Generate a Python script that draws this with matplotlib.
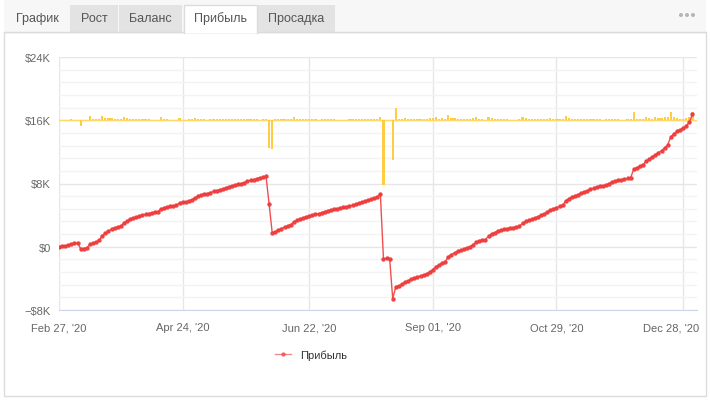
import numpy as np
import matplotlib.pyplot as plt
from matplotlib.patches import Rectangle, Circle
from matplotlib.transforms import ScaledTranslation

plt.rcParams['font.family'] = ['Liberation Sans', 'DejaVu Sans']

# накопленная прибыль по сделкам ($)
profit = [
    0, 80, 120, 160, 380, 420, 500, -250, -230, -180,
    300, 450, 600, 800, 1400, 1700, 1950, 2250, 2400, 2500,
    2600, 3000, 3250, 3450, 3650, 3750, 3850, 4000, 4100, 4200,
    4280, 4350, 4420, 4800, 4900, 5050, 5100, 5180, 5250, 5550,
    5600, 5650, 5800, 5950, 6200, 6400, 6550, 6650, 6720, 6850,
    7000, 7100, 7200, 7300, 7450, 7600, 7700, 7800, 7900, 8000,
    8100, 8300, 8400, 8500, 8620, 8700, 8800, 8900, 5400, 1770,
    1900, 2100, 2300, 2500, 2650, 2800, 3150, 3350, 3500, 3650,
    3800, 3900, 4000, 4100, 4180, 4300, 4450, 4550, 4650, 4750,
    4820, 4900, 4980, 5050, 5150, 5250, 5350, 5500, 5650, 5750,
    5850, 6000, 6150, 6300, 6700, -1500, -1480, -1500, -6570, -5050,
    -4950, -4750, -4500, -4300, -4100, -3950, -3800, -3700, -3550, -3400,
    -3150, -2900, -2500, -2300, -2050, -1900, -1250, -1000, -750, -600,
    -450, -300, -150, 0, 250, 600, 750, 850, 900, 1350,
    1650, 1800, 2000, 2100, 2200, 2300, 2350, 2420, 2500, 2600,
    2950, 3200, 3350, 3450, 3600, 3800, 4000, 4150, 4350, 4600,
    4800, 4950, 5100, 5250, 5800, 6100, 6250, 6450, 6600, 6800,
    6950, 7100, 7250, 7400, 7550, 7650, 7700, 7800, 8000, 8200,
    8300, 8400, 8480, 8550, 8650, 8750, 9800, 10000, 10200, 10400,
    10800, 11100, 11300, 11650, 11900, 12150, 12500, 12900, 13900, 14300,
    14600, 14800, 15000, 15300, 15750, 16800,
]
# результат каждой сделки = разница соседних точек
trade = np.diff(np.array(profit), prepend=0)

tick_idx = [0, 40, 81, 121, 161, 202]
tick_labels = ["Feb 27, '20", "Apr 24, '20", "Jun 22, '20",
               "Sep 01, '20", "Oct 29, '20", "Dec 28, '20"]
y_ticks = [-8000, 0, 8000, 16000, 24000]
y_labels = ['\u2212$8K', '$0', '$8K', '$16K', '$24K']
tabs = ['График', 'Рост', 'Баланс', 'Прибыль', 'Просадка']
active_tab = 'Прибыль'
bar_base = 16000

W, H = 710, 402
fig = plt.figure(figsize=(W / 100, H / 100), dpi=100)
fig.patch.set_facecolor('white')

# фон карточки и вкладки, в пикселях
bg = fig.add_axes([0, 0, 1, 1])
bg.set_xlim(0, W)
bg.set_ylim(H, 0)
bg.axis('off')
bg.add_patch(Rectangle((4, 33), 702, 364, facecolor='white', edgecolor='#dcdcdc', lw=1))
bg.add_patch(Rectangle((4, 0), 702, 33, facecolor='#f7f7f7', edgecolor='none'))
bg.plot([4, 706], [33, 33], color='#dcdcdc', lw=1)

tab_x = [(10, 68), (70, 118), (119, 182), (184, 257), (258, 335)]
for name, (x0, x1) in zip(tabs, tab_x):
    if name == active_tab:
        bg.add_patch(Rectangle((x0, 6), x1 - x0, 28, facecolor='white', edgecolor='none', zorder=3))
        bg.plot([x0, x0, x1, x1], [34, 6, 6, 34], color='#dcdcdc', lw=1, zorder=4)
    elif name != tabs[0]:
        bg.add_patch(Rectangle((x0, 6), x1 - x0, 27, facecolor='#e3e3e3', edgecolor='none'))
    bg.text((x0 + x1) / 2 if name != tabs[0] else 16, 19, name,
            ha='center' if name != tabs[0] else 'left', va='center',
            fontsize=9, color='#555555', zorder=5)
for cx in (681, 687, 693):
    bg.add_patch(Circle((cx, 16), 2, facecolor='#b5b5b5', edgecolor='none'))

# основной график
left, right, top, bottom = 59, 697, 58, 311
ax = fig.add_axes([left / W, 1 - bottom / H, (right - left) / W, (bottom - top) / H])
ax.set_facecolor('none')

x = np.arange(len(profit))
ax.axhline(bar_base, color='#ffd966', lw=1, zorder=2)
ax.bar(x, trade, bottom=bar_base, width=0.7, color='#ffcc44', zorder=3)
ax.plot(x, profit, color='#ee3b3b', lw=1, marker='o', markersize=2.2,
        alpha=0.9, zorder=4, label='Прибыль')

ax.set_xlim(0, (right - left) / 3.09)
ax.set_ylim(-8000, 24000)
ax.set_yticks(y_ticks)
ax.set_yticklabels(y_labels)
ax.set_yticks(np.arange(-8000, 24001, 1600), minor=True)
ax.set_xticks(tick_idx)
ax.set_xticklabels(tick_labels)

ax.grid(True, which='major', color='#e6e6e6', lw=1)
ax.grid(True, which='minor', axis='y', color='#f3f3f3', lw=1)
ax.set_axisbelow(True)
for s in ['top', 'right', 'left']:
    ax.spines[s].set_visible(False)
ax.spines['bottom'].set_color('#ccd6eb')
ax.tick_params(axis='both', which='both', length=0, labelsize=8, colors='#666666')
ax.tick_params(axis='y', pad=6)
ax.tick_params(axis='x', pad=9)

# последняя подпись сдвинута влево, чтобы не вылезать за край
last = ax.get_xticklabels()[-1]
last.set_transform(last.get_transform() + ScaledTranslation(-12 / 100, 0, fig.dpi_scale_trans))

leg = ax.legend(loc='center', bbox_to_anchor=(0.395, -0.178), frameon=False,
                fontsize=8, handlelength=1.4, labelcolor='#333333')
for h in leg.legend_handles:
    h.set_alpha(0.6)

plt.savefig('out.png', dpi=100)
